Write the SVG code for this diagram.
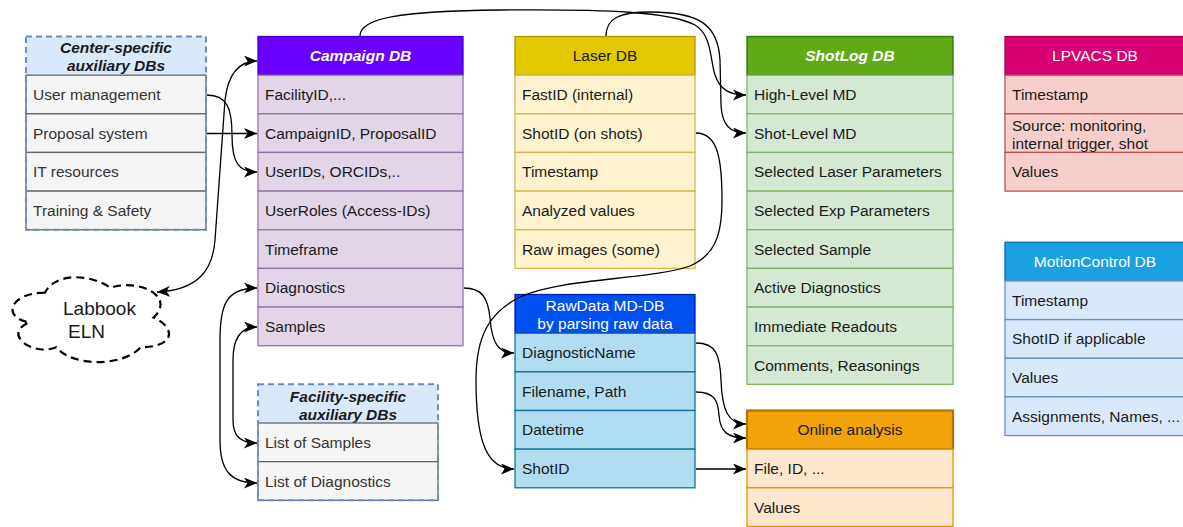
<svg xmlns="http://www.w3.org/2000/svg" width="1183" height="527" viewBox="0 0 1183 527">
<style>
text{font-family:"Liberation Sans",Arial,sans-serif;font-size:15.5px;fill:#1a1a1a}
.c{text-anchor:middle}
.w{fill:#ffffff}
.bi{font-weight:bold;font-style:italic}
.g{fill:#333333}
.conn{fill:none;stroke:#000;stroke-width:1.3}
.gray{fill:#f5f5f5;stroke:#666666;stroke-width:1.3}
.dash{fill:none;stroke:#6c8ebf;stroke-width:2;stroke-dasharray:6 4}
.pu{fill:#e1d5e7;stroke:#9673a6;stroke-width:1.3}
.ye{fill:#fff2cc;stroke:#d6b656;stroke-width:1.3}
.gr{fill:#d5e8d4;stroke:#82b366;stroke-width:1.3}
.rd{fill:#f8cecc;stroke:#b85450;stroke-width:1.3}
.bl{fill:#dae8fc;stroke:#6c8ebf;stroke-width:1.3}
.cy{fill:#b1ddf0;stroke:#10739e;stroke-width:1.3}
.or{fill:#ffe6cc;stroke:#d79b00;stroke-width:1.3}
</style>
<defs>
<marker id="arr" viewBox="0 0 13 11" refX="13" refY="5.5" markerWidth="13" markerHeight="11" markerUnits="userSpaceOnUse" orient="auto-start-reverse">
<path d="M0,0 L13,5.5 L0,11 L3.5,5.5 Z" fill="#000"/>
</marker>
</defs>
<rect x="0" y="0" width="1183" height="527" fill="#ffffff"/>

<!-- Center-specific auxiliary DBs -->
<g id="center-aux">
<rect x="26" y="36.5" width="180" height="38.65" fill="#dae8fc"/>
<text class="c bi" x="116" y="52.5">Center-specific</text>
<text class="c bi" x="116" y="70.5">auxiliary DBs</text>
<rect class="gray" x="26" y="75.15" width="180" height="38.65"/>
<rect class="gray" x="26" y="113.8" width="180" height="38.65"/>
<rect class="gray" x="26" y="152.45" width="180" height="38.65"/>
<rect class="gray" x="26" y="191.1" width="180" height="38.65"/>
<text class="g" x="33" y="100">User management</text>
<text class="g" x="33" y="138.6">Proposal system</text>
<text class="g" x="33" y="177.3">IT resources</text>
<text class="g" x="33" y="215.9">Training &amp; Safety</text>
<rect class="dash" x="26" y="36.5" width="180" height="193.25"/>
</g>

<!-- Campaign DB -->
<g id="campaign-db">
<rect x="258" y="36.5" width="205" height="38.65" fill="#6a00ff" stroke="#3700cc" stroke-width="1.3"/>
<text class="c w bi" x="360.5" y="61.3">Campaign DB</text>
<rect class="pu" x="258" y="75.15" width="205" height="38.65"/>
<rect class="pu" x="258" y="113.8" width="205" height="38.65"/>
<rect class="pu" x="258" y="152.45" width="205" height="38.65"/>
<rect class="pu" x="258" y="191.1" width="205" height="38.65"/>
<rect class="pu" x="258" y="229.75" width="205" height="38.65"/>
<rect class="pu" x="258" y="268.4" width="205" height="38.65"/>
<rect class="pu" x="258" y="307.05" width="205" height="38.65"/>
<text x="265" y="100">FacilityID,...</text>
<text x="265" y="138.6">CampaignID, ProposalID</text>
<text x="265" y="177.3">UserIDs, ORCIDs,..</text>
<text x="265" y="215.9">UserRoles (Access-IDs)</text>
<text x="265" y="254.6">Timeframe</text>
<text x="265" y="293.2">Diagnostics</text>
<text x="265" y="331.9">Samples</text>
</g>

<!-- Laser DB -->
<g id="laser-db">
<rect x="515" y="36.5" width="180" height="38.65" fill="#e3c800" stroke="#b09500" stroke-width="1.3"/>
<text class="c" x="605" y="61.3">Laser DB</text>
<rect class="ye" x="515" y="75.15" width="180" height="38.65"/>
<rect class="ye" x="515" y="113.8" width="180" height="38.65"/>
<rect class="ye" x="515" y="152.45" width="180" height="38.65"/>
<rect class="ye" x="515" y="191.1" width="180" height="38.65"/>
<rect class="ye" x="515" y="229.75" width="180" height="38.65"/>
<text x="522" y="100">FastID (internal)</text>
<text x="522" y="138.6">ShotID (on shots)</text>
<text x="522" y="177.3">Timestamp</text>
<text x="522" y="215.9">Analyzed values</text>
<text x="522" y="254.6">Raw images (some)</text>
</g>

<!-- ShotLog DB -->
<g id="shotlog-db">
<rect x="747" y="36.5" width="206" height="38.65" fill="#60a917" stroke="#2d7600" stroke-width="1.3"/>
<text class="c w bi" x="850" y="61.3">ShotLog DB</text>
<rect class="gr" x="747" y="75.15" width="206" height="38.65"/>
<rect class="gr" x="747" y="113.8" width="206" height="38.65"/>
<rect class="gr" x="747" y="152.45" width="206" height="38.65"/>
<rect class="gr" x="747" y="191.1" width="206" height="38.65"/>
<rect class="gr" x="747" y="229.75" width="206" height="38.65"/>
<rect class="gr" x="747" y="268.4" width="206" height="38.65"/>
<rect class="gr" x="747" y="307.05" width="206" height="38.65"/>
<rect class="gr" x="747" y="345.7" width="206" height="38.65"/>
<text x="754" y="100">High-Level MD</text>
<text x="754" y="138.6">Shot-Level MD</text>
<text x="754" y="177.3">Selected Laser Parameters</text>
<text x="754" y="215.9">Selected Exp Parameters</text>
<text x="754" y="254.6">Selected Sample</text>
<text x="754" y="293.2">Active Diagnostics</text>
<text x="754" y="331.9">Immediate Readouts</text>
<text x="754" y="370.5">Comments, Reasonings</text>
</g>

<!-- LPVACS DB -->
<g id="lpvacs-db">
<rect x="1005" y="36.5" width="180" height="38.65" fill="#d80073" stroke="#a50040" stroke-width="1.3"/>
<text class="c w" x="1095" y="61.3">LPVACS DB</text>
<rect class="rd" x="1005" y="75.15" width="180" height="38.65"/>
<rect class="rd" x="1005" y="113.8" width="180" height="38.65"/>
<rect class="rd" x="1005" y="152.45" width="180" height="38.65"/>
<text x="1012" y="100">Timestamp</text>
<text x="1012" y="131">Source: monitoring,</text>
<text x="1012" y="148.8">internal trigger, shot</text>
<text x="1012" y="177.3">Values</text>
</g>

<!-- MotionControl DB -->
<g id="motioncontrol-db">
<rect x="1005" y="242.3" width="180" height="38.65" fill="#1ba1e2" stroke="#006eaf" stroke-width="1.3"/>
<text class="c w" x="1095" y="267.1">MotionControl DB</text>
<rect class="bl" x="1005" y="280.95" width="180" height="38.65"/>
<rect class="bl" x="1005" y="319.6" width="180" height="38.65"/>
<rect class="bl" x="1005" y="358.25" width="180" height="38.65"/>
<rect class="bl" x="1005" y="396.9" width="180" height="38.65"/>
<text x="1012" y="305.8">Timestamp</text>
<text x="1012" y="344.4">ShotID if applicable</text>
<text x="1012" y="383.1">Values</text>
<text x="1012" y="421.7">Assignments, Names, ...</text>
</g>

<!-- RawData MD-DB -->
<g id="rawdata-db">
<rect x="515" y="294.5" width="180" height="38.7" fill="#0050ef" stroke="#001dbc" stroke-width="1.3"/>
<text class="c w" x="605" y="310.5">RawData MD-DB</text>
<text class="c w" x="605" y="328.5">by parsing raw data</text>
<rect class="cy" x="515" y="333.2" width="180" height="38.65"/>
<rect class="cy" x="515" y="371.85" width="180" height="38.65"/>
<rect class="cy" x="515" y="410.5" width="180" height="38.65"/>
<rect class="cy" x="515" y="449.15" width="180" height="38.65"/>
<text x="522" y="358">DiagnosticName</text>
<text x="522" y="396.7">Filename, Path</text>
<text x="522" y="435.3">Datetime</text>
<text x="522" y="474">ShotID</text>
</g>

<!-- Online analysis -->
<g id="online-analysis">
<rect x="747" y="410.5" width="206" height="38.65" fill="#f0a30a" stroke="#bd7000" stroke-width="2.2"/>
<text class="c" x="850" y="435.3">Online analysis</text>
<rect class="or" x="747" y="449.15" width="206" height="38.65"/>
<rect class="or" x="747" y="487.8" width="206" height="38.65"/>
<text x="754" y="474">File, ID, ...</text>
<text x="754" y="512.6">Values</text>
</g>

<!-- Facility-specific auxiliary DBs -->
<g id="facility-aux">
<rect x="258" y="384.35" width="180" height="38.65" fill="#dae8fc"/>
<text class="c bi" x="348" y="401.5">Facility-specific</text>
<text class="c bi" x="348" y="419.5">auxiliary DBs</text>
<rect class="gray" x="258" y="423" width="180" height="38.65"/>
<rect class="gray" x="258" y="461.65" width="180" height="38.65"/>
<text class="g" x="265" y="447.8">List of Samples</text>
<text class="g" x="265" y="486.5">List of Diagnostics</text>
<rect class="dash" x="258" y="384.35" width="180" height="115.95"/>
</g>

<!-- Labbook ELN cloud -->
<g id="labbook-eln">
<path d="M45,292.7 C9.6,292.7 1,317.5 29.5,322.5 C1,333.3 33,357.1 56.3,347.2 C71.8,367 123.4,367 140.6,347.2 C176,347.2 176,327.4 153.5,317.5 C176,297.7 140.6,277.9 110.5,287.8 C89,273 54.6,273 45,292.7 Z" fill="#ffffff" stroke="#000" stroke-width="2.2" stroke-dasharray="8 5"/>
<text x="63" y="315" style="font-size:19px">Labbook</text>
<text x="68" y="338" style="font-size:19px">ELN</text>
</g>

<!-- Connectors -->
<g id="connectors">
<path class="conn" d="M207,95 C228,95 232,110 232,135 C232,162 238,172 257,172" marker-end="url(#arr)"/>
<path class="conn" d="M207,133.5 L257,133.5" marker-end="url(#arr)"/>
<path class="conn" d="M157,292 C200,290 213,268 215,240 L225,100 C228,75 238,61 257,61" marker-start="url(#arr)" marker-end="url(#arr)"/>
<path class="conn" d="M257,288 C226,288 220,305 220,340 L220,440 C220,470 230,483 257,483" marker-start="url(#arr)" marker-end="url(#arr)"/>
<path class="conn" d="M257,327 C239,327 233,340 233,360 L233,420 C233,436 240,443 257,443" marker-start="url(#arr)" marker-end="url(#arr)"/>
<path class="conn" d="M464,288 C482,288 488,298 490,318 C492,343 498,353 514,353" marker-end="url(#arr)"/>
<path class="conn" d="M696,133 C718,133 722,160 722,200 C722,235 715,255 690,266 C650,280 560,278 520,297 C490,312 476,335 476,380 C476,440 486,469 514,469" marker-end="url(#arr)"/>
<path class="conn" d="M360,36 C360,18 400,11 500,10 C610,9 670,12 695,25 C712,35 710,60 715,75 C720,90 730,95 746,95" marker-end="url(#arr)"/>
<path class="conn" d="M606,36 C606,18 620,12 650,12 C700,12 718,25 720,60 L721,105 C722,125 730,133 746,133" marker-end="url(#arr)"/>
<path class="conn" d="M696,343 C716,343 720,355 721,380 C722,410 728,424 746,424" marker-end="url(#arr)"/>
<path class="conn" d="M696,392 C714,392 718,400 719,415 C720,432 728,438 746,438" marker-end="url(#arr)"/>
<path class="conn" d="M696,469 L746,469" marker-end="url(#arr)"/>
</g>
</svg>
